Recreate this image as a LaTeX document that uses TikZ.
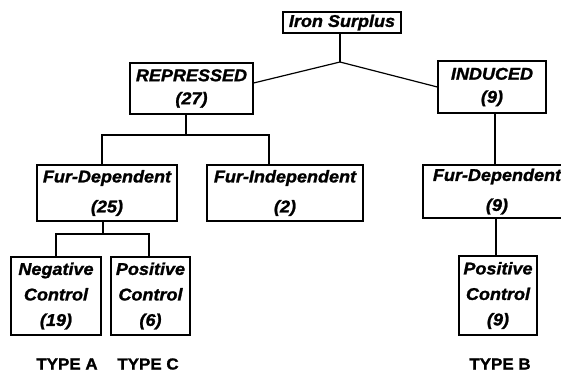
\documentclass[tikz,border=0pt]{standalone}
\usepackage{fontspec}
\newfontfamily\hfont[FakeStretch=1.06,FakeBold=1.3]{Liberation Sans}
\begin{document}
\begin{tikzpicture}[x=1pt,y=-1pt,
  box/.style={draw,line width=1.2pt,fill=white,inner sep=0pt,align=center,
    font=\hfont\bfseries\itshape\fontsize{17}{23}\selectfont},
  typelbl/.style={inner sep=0pt,font=\hfont\bfseries\fontsize{16}{18}\selectfont},
  conn/.style={line width=1.2pt}]
\useasboundingbox (0,0) rectangle (561,373);
\clip (0,0) rectangle (561,373);
% boxes
\node[box,minimum width=118pt,minimum height=21pt] (iron) at (342,22.5) {Iron Surplus};
\node[box,minimum width=123pt,minimum height=51pt] (rep) at (191.5,88.5) {REPRESSED\\(27)};
\node[box,minimum width=108pt,minimum height=52pt] (ind) at (492,87) {INDUCED\\(9)};
\node[box,minimum width=140pt,minimum height=56pt,font=\hfont\bfseries\itshape\fontsize{17}{30}\selectfont] (fdep) at (107,193) {Fur-Dependent\\(25)};
\node[box,minimum width=156pt,minimum height=56pt,font=\hfont\bfseries\itshape\fontsize{17}{30}\selectfont] (findep) at (285,193) {Fur-Independent\\(2)};
\node[box,minimum width=148pt,minimum height=53pt,font=\hfont\bfseries\itshape\fontsize{17}{30}\selectfont] (fdepb) at (497,191.5) {Fur-Dependent\\(9)};
\node[box,minimum width=90pt,minimum height=78pt,font=\hfont\bfseries\itshape\fontsize{17}{25.5}\selectfont] (neg) at (56,296) {Negative\\Control\\(19)};
\node[box,minimum width=79pt,minimum height=78pt,font=\hfont\bfseries\itshape\fontsize{17}{25.5}\selectfont] (pos) at (150.5,296) {Positive\\Control\\(6)};
\node[box,minimum width=78pt,minimum height=79pt,font=\hfont\bfseries\itshape\fontsize{17}{25.5}\selectfont] (posb) at (498,295.5) {Positive\\Control\\(9)};
% labels
\node[typelbl] (ta) at (67,364) {TYPE A};
\node[typelbl] (tc) at (148,364) {TYPE C};
\node[typelbl] (tb) at (500,364) {TYPE B};
% connectors
\coordinate (j) at (340,62);
\coordinate (h1) at (186,135);
\coordinate (h2) at (103,234);
\draw[conn] ([xshift=-2pt]iron.south) -- (j);
\draw[conn] (j) -- ([yshift=5.5pt]rep.east);
\draw[conn] (j) -- (ind.west);
\draw[conn] ([xshift=-5.5pt]rep.south) -- (h1);
\draw[conn] (h1) -| ([xshift=-5pt]fdep.north);
\draw[conn] (h1) -| ([xshift=-16pt]findep.north);
\draw[conn] ([xshift=-4pt]fdep.south) -- (h2);
\draw[conn] (h2) -| (neg.north);
\draw[conn] (h2) -| ([xshift=-1.5pt]pos.north);
\draw[conn] ([xshift=3pt]ind.south) -- ([xshift=-2pt]fdepb.north);
\draw[conn] ([xshift=-2pt]posb.north |- fdepb.south) -- ([xshift=-2pt]posb.north);
\end{tikzpicture}
\end{document}
